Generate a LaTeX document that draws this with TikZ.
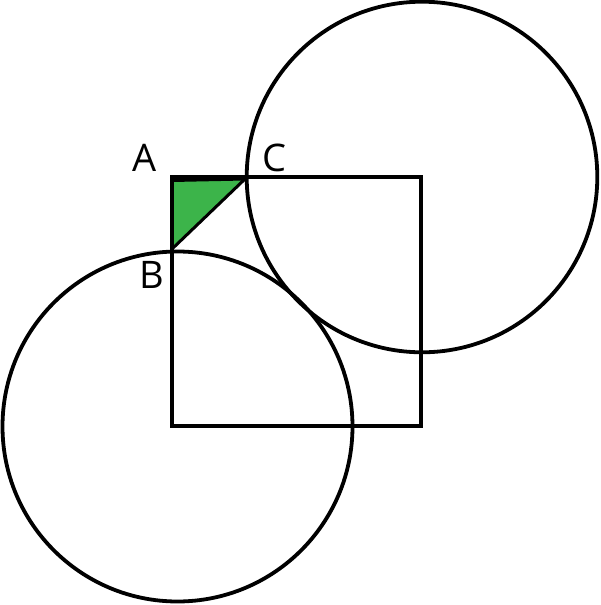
\documentclass[tikz,border=0pt]{standalone}
\usepackage{fontspec}
\setmainfont{Open Sans}
\definecolor{tri}{HTML}{3CB44A}
\begin{document}
\begin{tikzpicture}[x=1pt,y=-1pt,line width=3.8pt,
  lbl/.style={font=\fontsize{38}{38}\selectfont,inner sep=0pt,anchor=base}]
\useasboundingbox (0,0) rectangle (600,605);
\coordinate (A) at (172,177);
\coordinate (B) at (172,249);
\coordinate (C) at (245,179);
\coordinate (A2) at (172,180.5);
\coordinate (P) at (422,177);
\coordinate (Q) at (177.5,426.5);
\fill[tri] (A) -- (B) -- (C) -- cycle;
\draw[line width=3pt] (B) -- (C) -- (A2);
\draw (A) rectangle (421,426);
\draw (Q) circle[radius=175];
\draw (P) circle[radius=175.3];
\node[lbl] (la) at (145,171) {A};
\node[lbl] (lc) at (274,171) {C};
\node[lbl] (lb) at (152,288) {B};
\end{tikzpicture}
\end{document}
